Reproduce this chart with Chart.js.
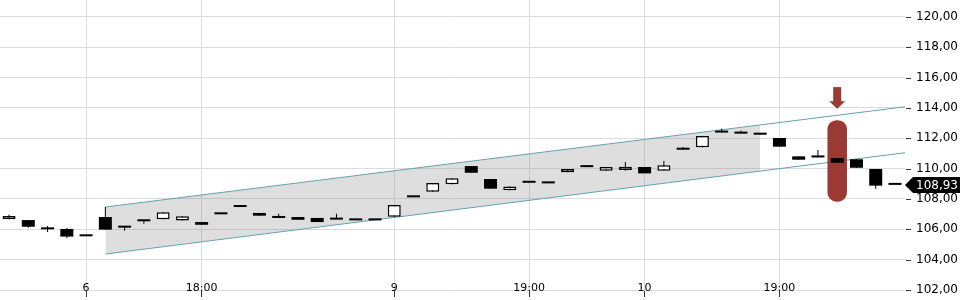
<!DOCTYPE html>
<html><head><meta charset="utf-8">
<script src="https://cdn.jsdelivr.net/npm/chart.js@4.4.1/dist/chart.umd.min.js"></script>
<style>html,body{margin:0;padding:0;background:#fff}#wrap{width:960px;height:300px;position:relative}</style>
</head><body><div id="wrap"><canvas id="c"></canvas></div>
<script>
// ---- data ----
const opens  = [106.66,106.61,106.00,106.02,105.54,106.81,106.22,106.53,106.66,106.59,
                106.48,106.99,107.47,107.08,106.88,106.81,106.75,106.77,106.59,106.59,
                106.83,108.11,108.48,108.97,110.17,109.32,108.58,109.19,109.03,109.76,
                110.10,109.86,109.91,110.11,109.87,111.36,111.41,112.44,112.38,112.35,
                112.02,110.81,110.83,110.70,110.62,109.98,108.93];
const closes = [106.88,106.17,106.00,105.52,105.54,105.98,106.11,106.53,107.12,106.86,
                106.30,106.99,107.47,106.90,106.75,106.63,106.48,106.64,106.59,106.59,
                107.60,108.11,109.05,109.36,109.73,108.68,108.82,109.07,109.03,109.98,
                110.10,110.11,110.12,109.69,110.22,111.25,112.15,112.38,112.31,112.24,
                111.45,110.59,110.74,110.39,110.06,108.88,108.93];
const highs  = [106.96,106.61,106.22,106.09,105.54,107.47,106.22,106.53,107.12,106.86,
                106.48,106.99,107.47,107.08,107.03,106.81,106.75,107.03,106.59,106.59,
                107.60,108.11,109.05,109.36,110.17,109.32,108.82,109.19,109.03,109.98,
                110.10,110.11,110.44,110.11,110.50,111.43,112.15,112.63,112.51,112.35,
                112.02,110.81,111.23,110.70,110.62,109.98,108.93];
const lows   = [106.66,106.11,105.82,105.43,105.54,105.98,105.91,106.37,106.66,106.59,
                106.30,106.99,107.47,106.90,106.75,106.63,106.48,106.64,106.59,106.59,
                106.83,108.11,108.48,108.97,109.73,108.68,108.58,109.07,109.03,109.76,
                110.10,109.86,109.87,109.69,109.87,111.25,111.41,112.38,112.31,112.24,
                111.45,110.59,110.74,110.39,110.06,108.68,108.93];
const xTickIndex  = [4, 10, 20, 27, 33, 40];
const xTickLabels = ['6', '18:00', '9', '19:00', '10', '19:00'];
const yTicks = [102, 104, 106, 108, 110, 112, 114, 116, 118, 120];
const channelX     = [5, 46.52];
const channelUpper = [107.47, 114.08];
const channelLower = [104.37, 111.05];
const shadeX     = [5, 39];
const shadeUpper = [107.47, 112.88];
const shadeLower = [104.37, 109.84];
const highlightIndex = 43;
const highlightRange = [107.82, 113.20];
const lastPrice = 108.93;
const xRange = [-0.47, 46.52];
const yRange = [102, 121.12];

// ---- helpers ----
const fmt = v => v.toFixed(2).replace('.', ',');
const idx = opens.map((_, i) => i);
const isUp = i => closes[i] > opens[i];
const bodyData = idx.map(i => ({x: i, y: [opens[i], closes[i]]}));
const wickData = idx.map(i => ({x: i, y: [lows[i], highs[i]]}));
const bodyBg = idx.map(i => isUp(i) ? '#ffffff' : '#000000');
const bodyBw = idx.map(i => isUp(i) ? 1.5 : 0);
const pts = (xs, ys) => xs.map((x, i) => ({x, y: ys[i]}));

const RED = '#9a3a33';
const TEAL = '#63a4a7';

const highlightPlugin = {
  id: 'highlight',
  beforeDatasetDraw(chart, args) {
    if (chart.data.datasets[args.index].label !== 'wicks') return;
    const {ctx, scales: {x, y}} = chart;
    const cx = x.getPixelForValue(highlightIndex);
    const top = y.getPixelForValue(highlightRange[1]);
    const bot = y.getPixelForValue(highlightRange[0]);
    const w = 19.5;
    ctx.save();
    ctx.fillStyle = RED;
    ctx.beginPath();
    ctx.roundRect(cx - w / 2, top, w, bot - top, 9);
    ctx.fill();
    // arrow
    ctx.beginPath();
    ctx.rect(cx - 4, top - 33, 8, 15);
    ctx.fill();
    ctx.beginPath();
    ctx.moveTo(cx - 8, top - 19);
    ctx.lineTo(cx + 8, top - 19);
    ctx.lineTo(cx, top - 11.5);
    ctx.closePath();
    ctx.fill();
    ctx.restore();
  }
};

const decorPlugin = {
  id: 'decor',
  afterDraw(chart) {
    const {ctx, chartArea, scales: {x, y}} = chart;
    ctx.save();
    // y tick marks
    ctx.strokeStyle = '#333';
    ctx.lineWidth = 1;
    yTicks.forEach(v => {
      const py = Math.round(y.getPixelForValue(v)) + 0.5;
      ctx.beginPath();
      ctx.moveTo(chartArea.right + 1, py);
      ctx.lineTo(chartArea.right + 6, py);
      ctx.stroke();
    });
    // x labels
    ctx.fillStyle = '#000';
    ctx.font = '11px "DejaVu Sans"';
    ctx.textAlign = 'center';
    ctx.textBaseline = 'alphabetic';
    xTickIndex.forEach((v, i) => {
      ctx.fillText(xTickLabels[i], x.getPixelForValue(v), chartArea.bottom + 1);
    });
    // last price tag
    const py = y.getPixelForValue(lastPrice);
    const x0 = chartArea.right;
    ctx.fillStyle = '#000';
    ctx.beginPath();
    ctx.moveTo(x0, py);
    ctx.lineTo(x0 + 8, py - 8);
    ctx.lineTo(chart.width, py - 8);
    ctx.lineTo(chart.width, py + 8);
    ctx.lineTo(x0 + 8, py + 8);
    ctx.closePath();
    ctx.fill();
    ctx.fillStyle = '#fff';
    ctx.font = '12px "DejaVu Sans"';
    ctx.textAlign = 'left';
    ctx.textBaseline = 'middle';
    ctx.fillText(fmt(lastPrice), x0 + 11, py + 0.5);
    ctx.restore();
  }
};

new Chart(document.getElementById('c'), {
  type: 'bar',
  data: {
    datasets: [
      {label: 'bodies', type: 'bar', data: bodyData, backgroundColor: bodyBg, borderColor: '#000',
       borderWidth: bodyBw, borderSkipped: false, inflateAmount: 0, minBarLength: 2,
       grouped: false, barPercentage: 1, categoryPercentage: 1, maxBarThickness: 13, order: 0},
      {label: 'wicks', type: 'bar', data: wickData, backgroundColor: '#000', borderWidth: 0,
       inflateAmount: 0, grouped: false, barPercentage: 1, categoryPercentage: 1, maxBarThickness: 1, order: 1},
      {label: 'upper', type: 'line', data: pts(channelX, channelUpper), borderColor: TEAL, borderWidth: 1,
       pointRadius: 0, fill: false, order: 2},
      {label: 'lower', type: 'line', data: pts(channelX, channelLower), borderColor: TEAL, borderWidth: 1,
       pointRadius: 0, fill: false, order: 2},
      {label: 'shadeTop', type: 'line', data: pts(shadeX, shadeUpper), borderWidth: 0, borderColor: 'rgba(0,0,0,0)',
       pointRadius: 0, fill: '+1', backgroundColor: 'rgba(128,128,128,0.26)', order: 3},
      {label: 'shadeBottom', type: 'line', data: pts(shadeX, shadeLower), borderWidth: 0, borderColor: 'rgba(0,0,0,0)',
       pointRadius: 0, fill: false, order: 3}
    ]
  },
  options: {
    responsive: true,
    maintainAspectRatio: false,
    animation: false,
    events: [],
    layout: {padding: 0},
    plugins: {legend: {display: false}, tooltip: {enabled: false}},
    scales: {
      x: {
        type: 'linear', min: xRange[0], max: xRange[1], offset: false,
        grid: {color: '#dcdcdc', offset: false, drawTicks: true, tickLength: 7, tickColor: '#333'},
        border: {display: false},
        ticks: {display: false},
        afterBuildTicks: s => { s.ticks = xTickIndex.map(v => ({value: v})); },
        afterFit: s => { s.height = 10; s.paddingLeft = 0; s.paddingRight = 0; }
      },
      y: {
        type: 'linear', position: 'right', min: yRange[0], max: yRange[1],
        grid: {color: '#dcdcdc', drawTicks: false},
        border: {display: false},
        ticks: {color: '#000', padding: 11, font: {family: 'DejaVu Sans', size: 12}, callback: v => fmt(v)},
        afterBuildTicks: s => { s.ticks = yTicks.map(v => ({value: v})); },
        afterFit: s => { s.width = 55; s.paddingTop = 0; s.paddingBottom = 0; }
      }
    }
  },
  plugins: [highlightPlugin, decorPlugin]
});
</script>
</body></html>
